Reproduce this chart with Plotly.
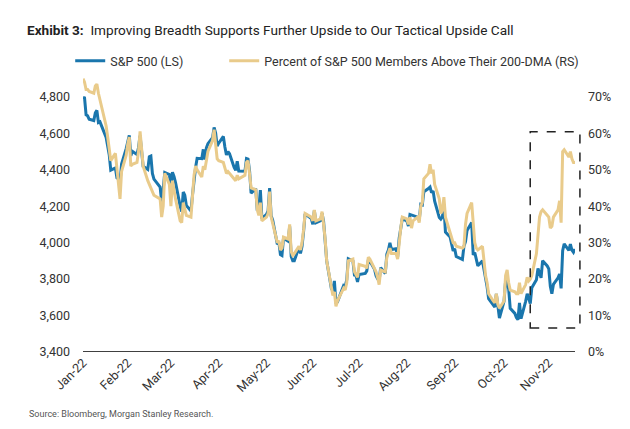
import plotly.graph_objects as go

# Trading days (day of month) for each month of 2022
days_jan = [3,4,5,6,7,10,11,12,13,14,18,19,20,21,24,25,26,27,28,31]
days_feb = [1,2,3,4,7,8,9,10,11,14,15,16,17,18,22,23,24,25,28]
days_mar = [1,2,3,4,7,8,9,10,11,14,15,16,17,18,21,22,23,24,25,28,29,30,31]
days_apr = [1,4,5,6,7,8,11,12,13,14,18,19,20,21,22,25,26,27,28,29]
days_may = [2,3,4,5,6,9,10,11,12,13,16,17,18,19,20,23,24,25,26,27,31]
days_jun = [1,2,3,6,7,8,9,10,13,14,15,16,17,21,22,23,24,27,28,29,30]
days_jul = [1,5,6,7,8,11,12,13,14,15,18,19,20,21,22,25,26,27,28,29]
days_aug = [1,2,3,4,5,8,9,10,11,12,15,16,17,18,19,22,23,24,25,26,29,30,31]
days_sep = [1,2,6,7,8,9,12,13,14,15,16,19,20,21,22,23,26,27,28,29,30]
days_oct = [3,4,5,6,7,10,11,12,13,14,17,18,19,20,21,24,25,26,27,28,31]
days_nov = [1,2,3,4,7,8,9,10,11,14,15,16,17,18]

# S&P 500 (left scale)
spx_jan = [4797,4794,4701,4696,4677,4670,4713,4726,4659,4663,4577,4533,4483,4398,4410,4356,4350,4327,4432,4516]
spx_feb = [4547,4589,4477,4501,4484,4522,4587,4504,4419,4402,4471,4475,4380,4349,4305,4226,4289,4385,4374]
spx_mar = [4306,4387,4363,4329,4201,4171,4278,4260,4204,4173,4262,4358,4412,4463,4461,4512,4456,4520,4543,4576,4632,4602,4530]
spx_apr = [4546,4583,4525,4481,4500,4488,4413,4397,4447,4393,4392,4462,4459,4394,4272,4296,4175,4184,4288,4132]
spx_may = [4155,4175,4300,4147,4123,3991,4001,3935,3930,4024,4008,4089,3924,3901,3901,3974,3941,3979,4058,4158,4132]
spx_jun = [4101,4177,4109,4121,4161,4116,4018,3901,3750,3735,3790,3667,3675,3765,3760,3796,3912,3900,3822,3819,3785]
spx_jul = [3825,3831,3845,3903,3899,3854,3819,3802,3790,3863,3831,3937,3960,3999,3962,3967,3921,4024,4072,4130]
spx_aug = [4119,4091,4155,4152,4145,4140,4122,4210,4207,4280,4297,4305,4274,4284,4228,4138,4129,4141,4199,4058,4031,3986,3955]
spx_sep = [3967,3924,3908,3980,4006,4067,4110,3933,3946,3901,3873,3900,3856,3790,3758,3693,3655,3647,3719,3640,3586]
spx_oct = [3678,3791,3783,3745,3640,3612,3589,3577,3670,3583,3678,3720,3695,3666,3753,3797,3859,3831,3807,3901,3872]
spx_nov = [3856,3760,3720,3771,3807,3828,3749,3956,3993,3957,3992,3959,3947,3965]

# Percent of S&P 500 members above their 200-DMA (right scale, %)
pct_jan = [75,74,72,72,71.5,71,73,73.5,71,69,62,59,55,52.5,54.5,50,47,42,49.5,54]
pct_feb = [57,59,51,51.5,52,55,60.5,56,51,47,46,45.5,44.5,43,42,37,40,49,46]
pct_mar = [40,47,44,42,36,35.5,41,39,37.5,37,43,48.5,51,50,48,51,50,53,55,58,61,57,53]
pct_apr = [52.5,52,50.5,49,49.5,49,47.5,47,48.5,47.5,48.5,52,52.5,49,45,44.5,39,37.5,41,36]
pct_may = [37,38,44,37,35,30,30.5,28,28.5,31.5,31,35,27.5,26.5,27,29,28,30,33.5,38,37]
pct_jun = [36,39,36,36.5,38.5,35,31,25,18,15.5,16.5,12.5,14,17.5,17,19,25,25.5,22,21,20.5]
pct_jul = [24,23.5,23,26,25.5,23,22,20.5,18.5,22.5,22,26,27,28.5,27,27,25.5,31,34,37]
pct_aug = [36.5,35,37,34,36,37,35.5,40,41,47.5,49,51.5,49,50,46,42,38,39,42.5,37,33,31,30]
pct_sep = [30,29,28.5,29,35,38,41,34,30,28.5,28,29,25,21,19,16,14,13.5,16,13,12]
pct_oct = [14,21,22.5,19,17,16.5,16,16,19,16,18.5,20.5,19.5,20,21,27,31.5,37,38.5,39,37.5]
pct_nov = [37,34,34.5,37,39,41.5,35.5,55,55.5,53.5,55,53,52,52]

month_days = [days_jan, days_feb, days_mar, days_apr, days_may, days_jun,
              days_jul, days_aug, days_sep, days_oct, days_nov]
spx_months = [spx_jan, spx_feb, spx_mar, spx_apr, spx_may, spx_jun,
              spx_jul, spx_aug, spx_sep, spx_oct, spx_nov]
pct_months = [pct_jan, pct_feb, pct_mar, pct_apr, pct_may, pct_jun,
              pct_jul, pct_aug, pct_sep, pct_oct, pct_nov]

dates, spx, pct = [], [], []
for m, (dd, sv, pv) in enumerate(zip(month_days, spx_months, pct_months), start=1):
    assert len(dd) == len(sv) == len(pv)
    for d, s, p in zip(dd, sv, pv):
        dates.append(f"2022-{m:02d}-{d:02d}")
        spx.append(s)
        pct.append(p)

tick_labels = ["Jan-22","Feb-22","Mar-22","Apr-22","May-22","Jun-22",
               "Jul-22","Aug-22","Sep-22","Oct-22","Nov-22"]
tick_dates = [f"2022-{m:02d}-{dd[0]:02d}" for m, dd in enumerate(month_days, start=1)]

left_ticks = [3400, 3600, 3800, 4000, 4200, 4400, 4600, 4800]
right_ticks = [0, 10, 20, 30, 40, 50, 60, 70]
right_labels = [f"{v}%" for v in right_ticks]

BLUE = "#1a76ad"
GOLD = "#e9cb8b"
TXT = "#333333"
FONT = "Roboto"

fig = go.Figure()
fig.add_trace(go.Scatter(x=dates, y=spx, name="S&P 500 (LS)", mode="lines",
                         line=dict(color=BLUE, width=3), yaxis="y", legend="legend"))
fig.add_trace(go.Scatter(x=dates, y=pct,
                         name="Percent of S&P 500 Members Above Their 200-DMA (RS)",
                         mode="lines", line=dict(color=GOLD, width=3), yaxis="y2",
                         legend="legend2"))

leg_common = dict(orientation="h", xanchor="left", y=1.05, yanchor="middle",
                  font=dict(family=FONT, size=12.5, color=TXT), bgcolor="rgba(0,0,0,0)",
                  itemwidth=30)

# page has an 8px body margin: figure is sized/offset to compensate
W, H = 622, 421
fig.update_layout(
    width=W, height=H,
    margin=dict(l=75, r=55, t=67, b=77),
    paper_bgcolor="white", plot_bgcolor="white",
    font=dict(family=FONT, size=12, color=TXT),
    title=dict(text="<b>Exhibit 3:</b>  Improving Breadth Supports Further Upside to Our Tactical Upside Call",
               x=19/W, xanchor="left", y=1-22/H, yanchor="middle",
               font=dict(family=FONT, size=13.6, color="#222222")),
    showlegend=True,
    legend=dict(x=-0.026, **leg_common),
    legend2=dict(x=0.287, **leg_common),
    xaxis=dict(type="date", range=["2022-01-03", "2022-11-18"],
               tickvals=tick_dates, ticktext=tick_labels, tickangle=-45,
               showgrid=False, zeroline=False, showline=False, ticks="",
               tickfont=dict(family=FONT, size=12.5, color=TXT)),
    yaxis=dict(range=[3400, 4920], tickvals=left_ticks, tickformat=",",
               showgrid=False, zeroline=False, showline=False, ticks="",
               ticklabelstandoff=12, tickfont=dict(family=FONT, size=12.5, color=TXT)),
    yaxis2=dict(range=[0, 76], overlaying="y", side="right", tickvals=right_ticks,
                ticktext=right_labels, showgrid=False, zeroline=False, showline=False, ticks="",
                ticklabelstandoff=12, tickfont=dict(family=FONT, size=12.5, color=TXT)),
)

# bottom axis line
fig.add_shape(type="line", xref="paper", yref="y", x0=0, x1=1, y0=3400, y1=3400,
              line=dict(color="black", width=1.5), layer="above")

# dashed highlight box around the latest move
fig.add_shape(type="rect", xref="paper", yref="paper",
              x0=0.909, x1=1.01, y0=0.087, y1=0.795,
              line=dict(color="#222222", width=1.5, dash="dash"), fillcolor="rgba(0,0,0,0)")

fig.add_annotation(text="Source: Bloomberg, Morgan Stanley Research.",
                   xref="paper", yref="paper", x=-0.114, y=-0.224,
                   xanchor="left", yanchor="middle", showarrow=False,
                   font=dict(family=FONT, size=9, color="#555555"))

fig.write_html("out.html")
